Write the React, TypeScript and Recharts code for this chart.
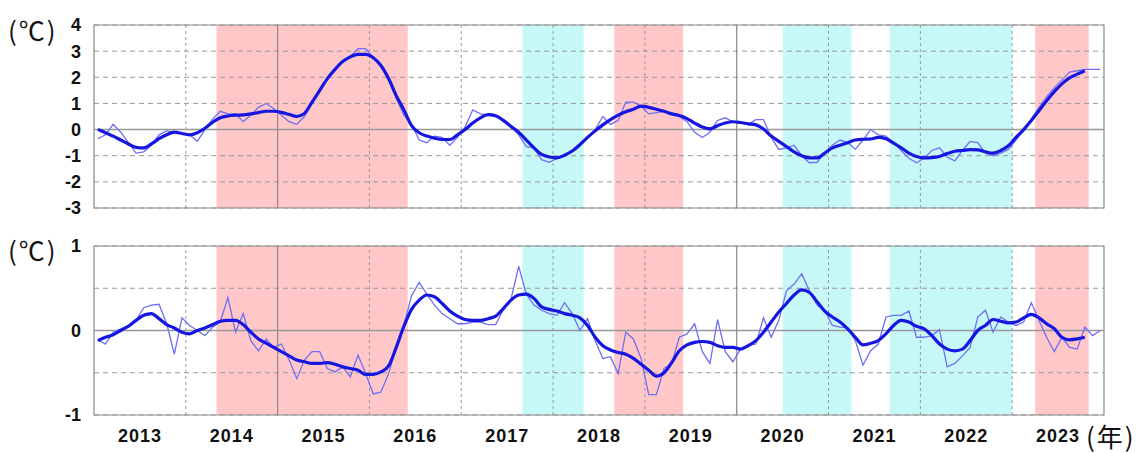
import React from 'react';
import { LineChart, Line, XAxis, YAxis, ReferenceArea, ReferenceLine } from 'recharts';

// monthly values from Jan 2013
const topThin = [
  -0.35, -0.2, 0.2, -0.1, -0.5, -0.9, -0.85, -0.6, -0.2, -0.05, -0.1, -0.15,
  -0.2, -0.45, 0.0, 0.4, 0.7, 0.6, 0.6, 0.3, 0.55, 0.85, 1.0, 0.8,
  0.55, 0.3, 0.2, 0.5, 1.0, 1.55, 2.0, 2.3, 2.6, 2.8, 3.1, 3.1,
  2.75, 2.45, 1.9, 1.2, 0.55, 0.2, -0.4, -0.5, -0.25, -0.3, -0.6, -0.3,
  0.1, 0.75, 0.6, 0.55, 0.5, 0.35, 0.1, -0.2, -0.65, -0.7, -1.15, -1.25,
  -1.1, -1.0, -0.8, -0.55, -0.3, 0.0, 0.5, 0.2, 0.35, 1.05, 1.05, 0.9,
  0.6, 0.65, 0.7, 0.6, 0.5, 0.3, -0.1, -0.3, -0.1, 0.35, 0.45, 0.3,
  0.25, 0.2, 0.38, 0.38, -0.3, -0.76, -0.7, -0.6, -1.0, -1.27, -1.25, -0.9,
  -0.6, -0.4, -0.5, -0.75, -0.4, 0.0, -0.2, -0.25, -0.5, -0.8, -1.1, -1.27,
  -1.1, -0.8, -0.7, -1.05, -1.2, -0.8, -0.45, -0.5, -0.9, -1.0, -0.9, -0.76,
  -0.4, 0.0, 0.4, 0.85, 1.25, 1.6, 1.9, 2.2, 2.25, 2.3, 2.3, 2.3,
];
const topThick = [
  0.0, -0.12, -0.25, -0.4, -0.55, -0.68, -0.7, -0.55, -0.35, -0.2, -0.1, -0.15,
  -0.2, -0.12, 0.05, 0.28, 0.45, 0.52, 0.55, 0.56, 0.6, 0.65, 0.7, 0.7,
  0.66, 0.58, 0.5, 0.62, 1.05, 1.5, 1.95, 2.3, 2.6, 2.78, 2.88, 2.88,
  2.75, 2.45, 1.95, 1.3, 0.75, 0.15, -0.12, -0.25, -0.33, -0.38, -0.38, -0.2,
  0.0, 0.25, 0.45, 0.57, 0.53, 0.35, 0.12, -0.1, -0.4, -0.7, -0.95, -1.05,
  -1.08, -0.98, -0.82, -0.58, -0.3, -0.05, 0.18, 0.38, 0.55, 0.68, 0.78, 0.9,
  0.85, 0.78, 0.7, 0.6, 0.54, 0.42, 0.25, 0.1, 0.03, 0.15, 0.25, 0.3,
  0.27, 0.22, 0.18, 0.02, -0.25, -0.45, -0.65, -0.85, -1.0, -1.08, -1.08, -0.9,
  -0.7, -0.6, -0.5, -0.4, -0.37, -0.36, -0.3, -0.35, -0.52, -0.7, -0.9, -1.03,
  -1.08, -1.07, -1.03, -0.92, -0.83, -0.8, -0.77, -0.78, -0.85, -0.9, -0.8, -0.62,
  -0.3, 0.0, 0.35, 0.72, 1.1, 1.45, 1.75, 1.98, 2.12, 2.25,
];
const botThin = [
  -0.11, -0.16, -0.02, 0.02, 0.06, 0.12, 0.27, 0.3, 0.31, 0.08, -0.28, 0.15,
  0.06, 0.0, -0.06, 0.04, 0.1, 0.39, -0.02, 0.2, -0.12, -0.24, -0.1, -0.2,
  -0.16, -0.35, -0.57, -0.35, -0.25, -0.25, -0.45, -0.49, -0.43, -0.55, -0.29, -0.51,
  -0.75, -0.73, -0.51, -0.2, 0.06, 0.41, 0.57, 0.43, 0.3, 0.2, 0.14, 0.08,
  0.08, 0.1, 0.1, 0.07, 0.07, 0.25, 0.37, 0.76, 0.43, 0.3, 0.24, 0.2,
  0.18, 0.33, 0.2, 0.0, 0.14, -0.12, -0.33, -0.31, -0.51, -0.02, -0.1, -0.33,
  -0.76, -0.76, -0.45, -0.39, -0.08, -0.04, 0.08, -0.25, -0.39, 0.13, -0.25, -0.37,
  -0.22, -0.18, -0.16, 0.15, -0.08, 0.12, 0.47, 0.55, 0.67, 0.47, 0.3, 0.24,
  0.06, 0.04, 0.03, -0.12, -0.41, -0.24, -0.16, 0.16, 0.18, 0.18, 0.23, -0.08,
  -0.08, -0.06, 0.01, -0.43, -0.39, -0.3, -0.2, 0.16, 0.24, -0.02, 0.16, 0.1,
  0.06, 0.1, 0.33, 0.12, -0.08, -0.25, -0.08, -0.2, -0.22, 0.04, -0.06, 0.0,
];
const botThick = [
  -0.12, -0.08, -0.05, 0.0, 0.05, 0.12, 0.18, 0.2, 0.14, 0.07, 0.03, -0.02,
  -0.04, 0.0, 0.03, 0.07, 0.11, 0.12, 0.12, 0.07, -0.02, -0.1, -0.15, -0.2,
  -0.25, -0.3, -0.35, -0.37, -0.39, -0.39, -0.38, -0.4, -0.43, -0.45, -0.47, -0.52,
  -0.52, -0.49, -0.42, -0.2, 0.05, 0.25, 0.36, 0.42, 0.4, 0.32, 0.23, 0.17,
  0.13, 0.12, 0.12, 0.14, 0.17, 0.26, 0.36, 0.42, 0.43, 0.38, 0.28, 0.25,
  0.23, 0.2, 0.18, 0.15, 0.06, -0.08, -0.18, -0.23, -0.26, -0.28, -0.33, -0.4,
  -0.47, -0.54, -0.5, -0.38, -0.24, -0.17, -0.14, -0.13, -0.14, -0.18, -0.2, -0.2,
  -0.22, -0.18, -0.12, -0.02, 0.1, 0.22, 0.32, 0.42, 0.48, 0.45, 0.34, 0.23,
  0.16, 0.1, 0.02, -0.08, -0.17, -0.15, -0.12, -0.04, 0.06, 0.12, 0.1, 0.05,
  0.02, -0.06, -0.16, -0.22, -0.24, -0.22, -0.12, 0.0, 0.06, 0.13, 0.11, 0.09,
  0.1, 0.15, 0.19, 0.15, 0.08, 0.02, -0.08, -0.11, -0.1, -0.08,
];

const yearLabels = ['2013', '2014', '2015', '2016', '2017', '2018', '2019', '2020', '2021', '2022', '2023'];
const solidYears = ['2015', '2020'];

// shaded periods, in months from Jan 2013
const elNino = [[16, 41], [68, 77], [123, 130]];
const laNina = [[56, 64], [90, 99], [104, 120]];

const topTicks = [-3, -2, -1, 0, 1, 2, 3, 4];
const botTicks = [-1, -0.5, 0, 0.5, 1];

const buildRows = (thin: number[], thick: number[]) =>
  thin.map((v, i) => ({ m: i + 0.5, thin: v, thick: i < thick.length ? thick[i] : null }));

const topRows = buildRows(topThin, topThick);
const botRows = buildRows(botThin, botThick);

const nMonths = yearLabels.length * 12;
const tickFont = { fill: '#111', fontSize: 18, fontWeight: 700, fontFamily: 'Liberation Sans, Arial, sans-serif' };
const unitStyle: React.CSSProperties = {
  position: 'absolute',
  fontFamily: '"Noto Sans CJK JP", sans-serif',
  fontSize: 26,
  letterSpacing: 2,
  color: '#111',
  lineHeight: 1,
};

function Panel({ rows, ticks, domain, height, margin, showX }: any) {
  return (
    <LineChart width={1140} height={height} data={rows} margin={margin}>
      <XAxis
        type="number"
        dataKey="m"
        domain={[0, nMonths]}
        ticks={yearLabels.map((_, i) => i * 12 + 6)}
        tickFormatter={(v: number) => yearLabels[Math.floor(v / 12)]}
        hide={!showX}
        height={38}
        tickLine={false}
        axisLine={false}
        tickMargin={8}
        tick={{ ...tickFont, letterSpacing: 1 }}
        allowDataOverflow
      />
      <YAxis
        type="number"
        domain={domain}
        ticks={ticks}
        width={94}
        tickLine={false}
        axisLine={false}
        tickMargin={7}
        tick={tickFont}
        interval={0}
        tickFormatter={(v: number) => (Number.isInteger(v) ? String(v) : '')}
        allowDataOverflow
      />
      {elNino.map(([a, b], i) => (
        <ReferenceArea key={'r' + i} x1={a} x2={b} fill="#ffc7c7" fillOpacity={1} stroke="none" />
      ))}
      {laNina.map(([a, b], i) => (
        <ReferenceArea key={'c' + i} x1={a} x2={b} fill="#c6f8f8" fillOpacity={1} stroke="none" />
      ))}
      {ticks.map((t: number) => (
        <ReferenceLine
          key={'h' + t}
          y={t}
          stroke="#999"
          strokeWidth={t === 0 ? 1.5 : 1}
          strokeDasharray={t === 0 ? undefined : '5 4'}
        />
      ))}
      {yearLabels.slice(1).map((y, i) => (
        <ReferenceLine
          key={'v' + y}
          x={(i + 1) * 12}
          stroke={solidYears.includes(y) ? '#888' : '#999'}
          strokeWidth={solidYears.includes(y) ? 1.2 : 1}
          strokeDasharray={solidYears.includes(y) ? undefined : '3 3'}
        />
      ))}
      <ReferenceArea x1={0} x2={nMonths} y1={domain[0]} y2={domain[1]} fill="none" stroke="#888" strokeWidth={1.2} />
      <Line
        dataKey="thin"
        stroke="#6f6ff5"
        strokeWidth={1.3}
        dot={false}
        isAnimationActive={false}
        type="linear"
      />
      <Line
        dataKey="thick"
        stroke="#1616e0"
        strokeWidth={3.2}
        dot={false}
        isAnimationActive={false}
        type="monotone"
        connectNulls={false}
      />
    </LineChart>
  );
}

export default function App() {
  return (
    <div style={{ position: 'absolute', left: 0, top: 0, width: 1140, height: 453, background: '#fff' }}>
      <div style={{ position: 'absolute', left: 0, top: 0 }}>
        <Panel rows={topRows} ticks={topTicks} domain={[-3, 4]} height={230} margin={{ top: 25, right: 36, bottom: 22, left: 0 }} showX={false} />
      </div>
      <div style={{ position: 'absolute', left: 0, top: 230 }}>
        <Panel rows={botRows} ticks={botTicks} domain={[-1, 1]} height={223} margin={{ top: 16, right: 36, bottom: 0, left: 0 }} showX />
      </div>
      <div style={{ ...unitStyle, left: 8, top: 17 }}>(℃)</div>
      <div style={{ ...unitStyle, left: 8, top: 237 }}>(℃)</div>
      <div style={{ ...unitStyle, left: 1086, top: 423 }}>(年)</div>
    </div>
  );
}
